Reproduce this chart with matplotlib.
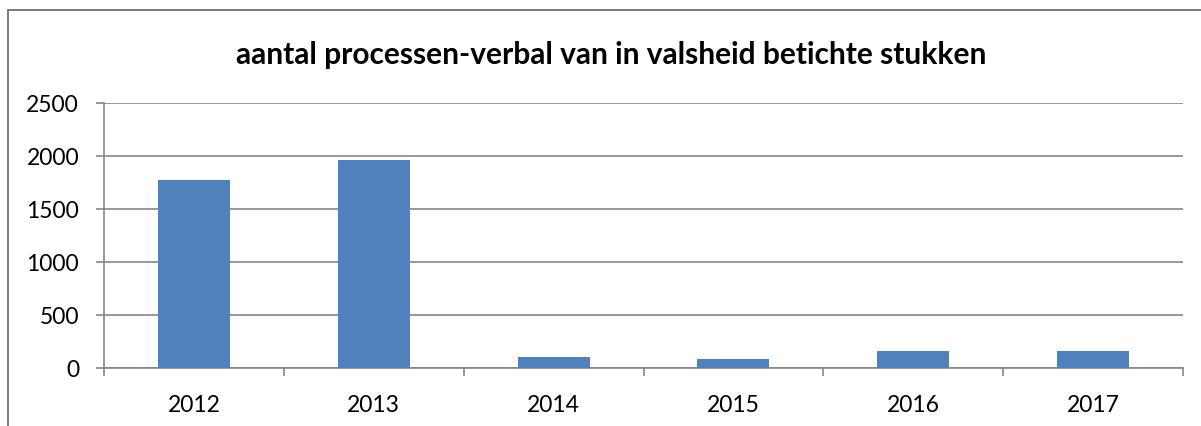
import numpy as np
import matplotlib.pyplot as plt
from matplotlib.patches import Rectangle

# Data
jaren = ["2012", "2013", "2014", "2015", "2016", "2017"]
aantal = [1775, 1958, 107, 89, 164, 164]
y_ticks = [0, 500, 1000, 1500, 2000, 2500]

plt.rcParams['font.family'] = ['Lato', 'DejaVu Sans']

W, H = 1201, 427
fig = plt.figure(figsize=(W / 100, H / 100), dpi=100)

# Rand rond de grafiek (alleen links en boven zichtbaar)
fig.patches.append(Rectangle((8 / W, -0.1), 1.2, 1.1 - 11 / H, transform=fig.transFigure,
                             fill=False, edgecolor='#6e6e6e', linewidth=1.3))

ax = fig.add_axes([104 / W, (H - 369) / H, (1183 - 104) / W, (369 - 104) / H])

grijs = '#868686'
x = np.arange(len(jaren))
ax.bar(x, aantal, width=0.4, color='#4F81BD', zorder=3)

ax.set_xlim(-0.5, len(jaren) - 0.5)
ax.set_ylim(0, 2500)
ax.set_yticks(y_ticks)
ax.set_yticklabels([str(v) for v in y_ticks], fontsize=16.5)
ax.yaxis.grid(True, color=grijs, linewidth=1.2, zorder=0)

ax.set_xticks(x)
ax.set_xticklabels(jaren, fontsize=16.5)
ax.set_xticks(np.arange(len(jaren) + 1) - 0.5, minor=True)
ax.tick_params(axis='x', which='major', length=0, pad=19)
ax.tick_params(axis='x', which='minor', length=6, width=1.2, color=grijs, direction='out')
ax.tick_params(axis='y', length=6, width=1.2, color=grijs, direction='out', pad=12)

for s in ['top', 'right']:
    ax.spines[s].set_visible(False)
for s in ['left', 'bottom']:
    ax.spines[s].set_color(grijs)
    ax.spines[s].set_linewidth(1.2)

fig.text(611 / W, 1 - 55 / H, "aantal processen-verbal van in valsheid betichte stukken",
         ha='center', va='center', fontsize=21.5, fontweight='bold')

fig.savefig('out.png', dpi=100)
